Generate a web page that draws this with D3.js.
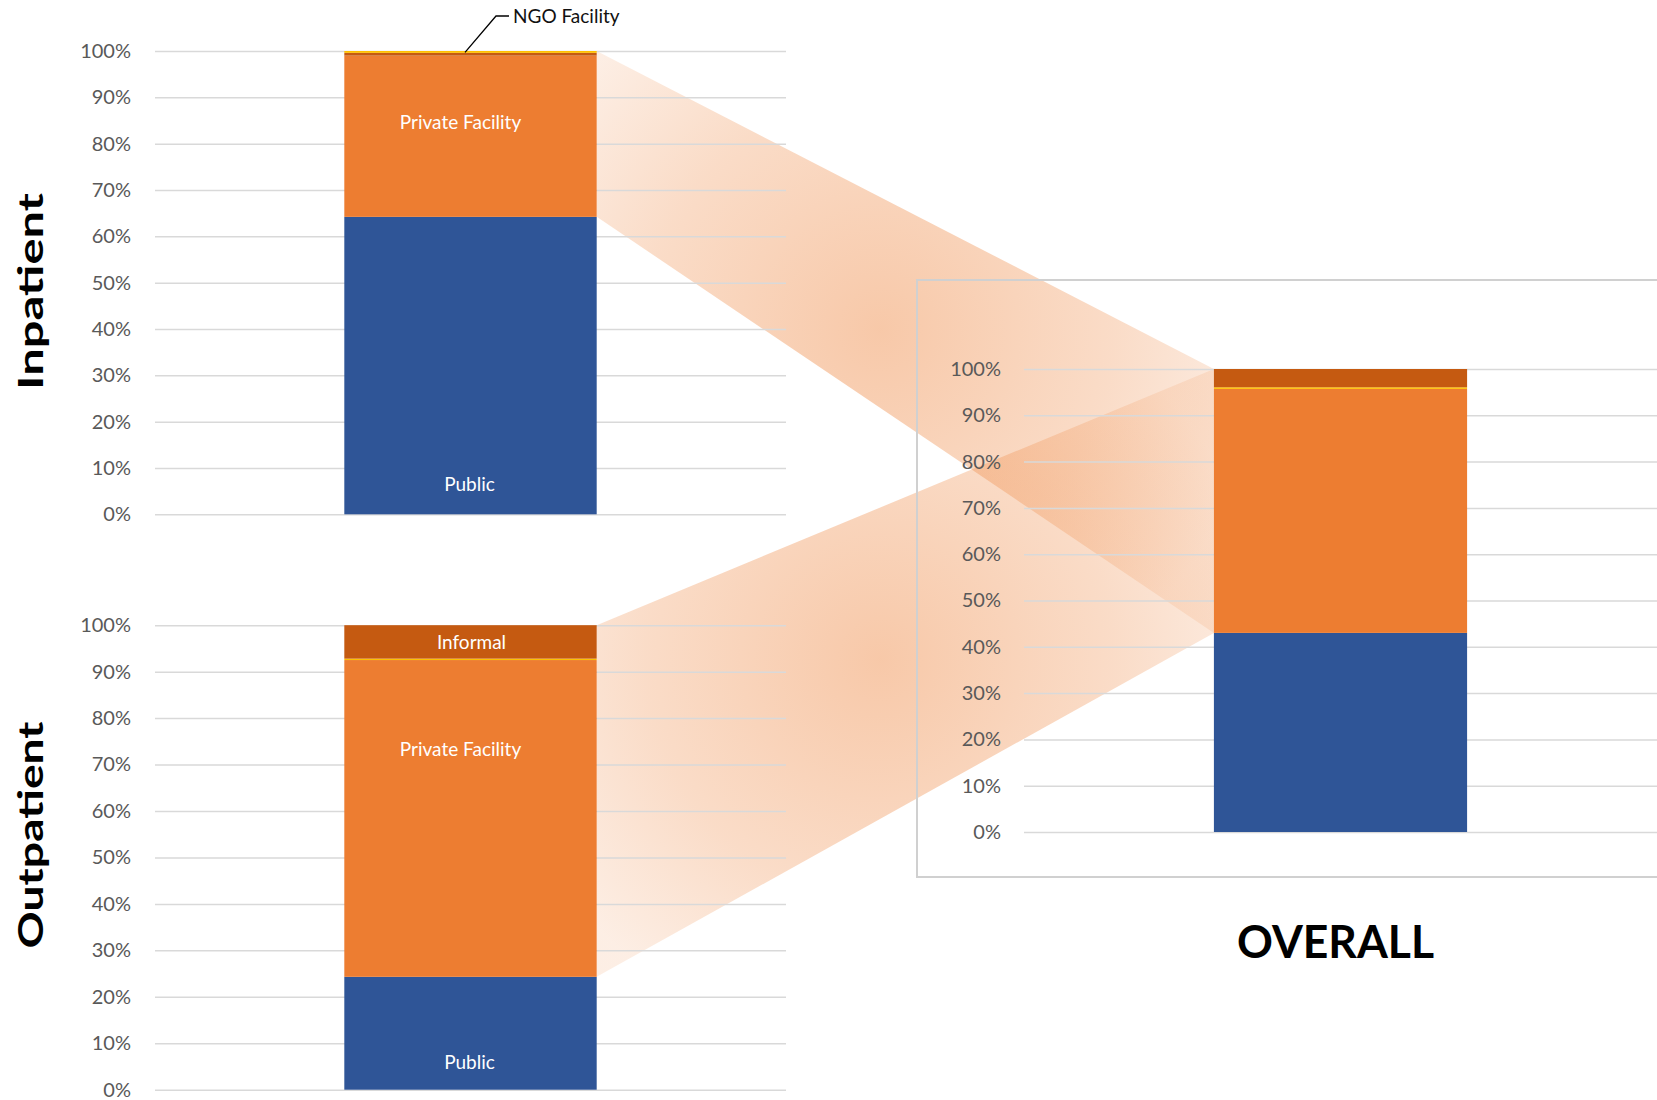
<!DOCTYPE html>
<html>
<head>
<meta charset="utf-8">
<script src="https://cdn.jsdelivr.net/npm/d3@7"></script>
<style>
  html, body { margin: 0; padding: 0; background: #ffffff; }
  svg { display: block; }
</style>
</head>
<body>
<svg id="chart" width="1657" height="1100"></svg>
<script>
// ---------------- DATA ----------------
const seriesNames = ["Public", "Private Facility", "NGO Facility", "Informal"];
const inpatientValues  = [64.2, 34.8, 0.4, 0.6];   // % by seriesNames
const outpatientValues = [24.3, 68.2, 0.3, 7.2];
const overallValues    = [43.0, 52.7, 0.35, 3.95];
const inpatientOrder  = ["Public", "Private Facility", "Informal", "NGO Facility"];
const standardOrder   = ["Public", "Private Facility", "NGO Facility", "Informal"];
const tickValues = [0, 10, 20, 30, 40, 50, 60, 70, 80, 90, 100];
const tickLabels = ["0%", "10%", "20%", "30%", "40%", "50%", "60%", "70%", "80%", "90%", "100%"];
const panelTitles = ["Inpatient", "Outpatient", "OVERALL"];
// data labels: [panel, text, value at which the label sits]
const inpatientLabels  = [["Private Facility", 84.5], ["Public", 6.5]];
const outpatientLabels = [["Informal", 96.4], ["Private Facility", 73.2], ["Public", 5.9]];
const calloutText = "NGO Facility";

// ---------------- STYLE / LAYOUT ----------------
const colors = {
  "Public": "#2F5597",
  "Private Facility": "#ED7D31",
  "NGO Facility": "#FFC000",
  "Informal": "#C55A11"
};
const FONT = "Lato, 'Open Sans', 'Noto Sans', sans-serif";
const svg = d3.select("#chart");

function makeRow(name, values) {
  const r = { category: name };
  seriesNames.forEach((s, i) => r[s] = values[i]);
  return r;
}

const panels = [
  { key: "in",  row: makeRow("Inpatient", inpatientValues),  order: inpatientOrder,
    x0: 155, x1: 786, yBottom: 514.3, yTop: 51, labelPad: 24, labels: inpatientLabels },
  { key: "out", row: makeRow("Outpatient", outpatientValues), order: standardOrder,
    x0: 155, x1: 786, yBottom: 1089.7, yTop: 625.2, labelPad: 24, labels: outpatientLabels },
  { key: "ov",  row: makeRow("Overall", overallValues),       order: standardOrder,
    x0: 1024, x1: 1657, yBottom: 832, yTop: 369, labelPad: 23, labels: [] }
];

panels.forEach(p => {
  p.y = d3.scaleLinear().domain([0, 100]).range([p.yBottom, p.yTop]);
  p.x = d3.scaleBand().domain([p.row.category]).range([p.x0, p.x1]).padding(0.4286);
  p.stack = d3.stack().keys(p.order)([p.row]);
});

const [pIn, pOut, pOv] = panels;

// ---------------- GRADIENTS ----------------
const defs = svg.append("defs");
function radial(id, cx, cy, r) {
  const g = defs.append("radialGradient").attr("id", id)
    .attr("gradientUnits", "userSpaceOnUse")
    .attr("cx", cx).attr("cy", cy).attr("r", r);
  g.append("stop").attr("offset", "0").attr("stop-color", "#ED7D31").attr("stop-opacity", 0.42);
  g.append("stop").attr("offset", "0.6").attr("stop-color", "#ED7D31").attr("stop-opacity", 0.27);
  g.append("stop").attr("offset", "1").attr("stop-color", "#ED7D31").attr("stop-opacity", 0.13);
}
radial("gradIn", 880, 330, 390);
radial("gradOut", 880, 660, 390);

// ---------------- FUNNEL POLYGONS ----------------
function publicTop(p) { return p.row["Public"]; }
function funnel(src, gradId) {
  const xa = src.x(src.row.category) + src.x.bandwidth();
  const xb = pOv.x(pOv.row.category);
  const pts = [
    [xa, src.y(100)],
    [xb, pOv.y(100)],
    [xb, pOv.y(publicTop(pOv))],
    [xa, src.y(publicTop(src))]
  ];
  svg.append("polygon")
    .attr("points", pts.map(d => d.join(",")).join(" "))
    .attr("fill", `url(#${gradId})`);
}
funnel(pIn, "gradIn");
funnel(pOut, "gradOut");

// ---------------- OVERALL BOX ----------------
svg.append("rect")
  .attr("x", 917).attr("y", 280)
  .attr("width", 760).attr("height", 597)
  .attr("fill", "none").attr("stroke", "#D0D0D0").attr("stroke-width", 2);

// ---------------- AXES / GRIDLINES ----------------
panels.forEach(p => {
  const axis = d3.axisLeft(p.y)
    .tickValues(tickValues)
    .tickFormat((d, i) => tickLabels[i])
    .tickSizeInner(-(p.x1 - p.x0))
    .tickSizeOuter(0)
    .tickPadding(p.labelPad);
  const g = svg.append("g").attr("transform", `translate(${p.x0},0)`).call(axis);
  g.select(".domain").remove();
  g.selectAll(".tick line").attr("stroke", "#D9D9D9").attr("stroke-width", 1.5);
  g.selectAll(".tick text")
    .attr("fill", "#595959")
    .style("font-family", FONT)
    .style("font-size", "20px");
});

// ---------------- BARS ----------------
panels.forEach(p => {
  const g = svg.append("g");
  p.stack.forEach(layer => {
    g.selectAll(null).data(layer).enter().append("rect")
      .attr("x", d => p.x(d.data.category))
      .attr("width", p.x.bandwidth())
      .attr("y", d => p.y(d[1]))
      .attr("height", d => p.y(d[0]) - p.y(d[1]))
      .attr("fill", colors[layer.key]);
  });
});

// ---------------- DATA LABELS ----------------
const labelDx = { "Private Facility": -10, "Public": -1, "Informal": 1 };
[pIn, pOut].forEach(p => {
  const cx = p.x(p.row.category) + p.x.bandwidth() / 2;
  svg.selectAll(null).data(p.labels).enter().append("text")
    .attr("x", d => cx + (labelDx[d[0]] || 0))
    .attr("y", d => p.y(d[1]))
    .attr("dy", "0.35em")
    .attr("text-anchor", "middle")
    .attr("fill", "#FFFFFF")
    .style("font-family", FONT)
    .style("font-size", "19px")
    .text(d => d[0]);
});

// ---------------- NGO CALLOUT ----------------
{
  const yNgo = pIn.y(99.7);
  const xNgo = 465;
  svg.append("polyline")
    .attr("points", `${xNgo},${yNgo} 496,16 509,16`)
    .attr("fill", "none").attr("stroke", "#000").attr("stroke-width", 1.3);
  svg.append("text")
    .attr("x", 513).attr("y", 16).attr("dy", "0.35em")
    .attr("fill", "#111")
    .style("font-family", FONT).style("font-size", "19px")
    .text(calloutText);
}

// ---------------- TITLES ----------------
function vTitle(text, cy, len) {
  svg.append("text")
    .attr("transform", `translate(43,${cy}) rotate(-90)`)
    .attr("text-anchor", "middle")
    .attr("fill", "#000")
    .style("font-family", FONT).style("font-weight", 700).style("font-size", "35px")
    .attr("textLength", len).attr("lengthAdjust", "spacingAndGlyphs")
    .text(text);
}
vTitle(panelTitles[0], 291.5, 197);
vTitle(panelTitles[1], 835, 227);

svg.append("text")
  .attr("x", 1335.5).attr("y", 957.7)
  .attr("text-anchor", "middle")
  .attr("fill", "#000")
  .style("font-family", FONT).style("font-weight", 700).style("font-size", "46px")
  .attr("textLength", 197).attr("lengthAdjust", "spacingAndGlyphs")
  .text(panelTitles[2]);
</script>
</body>
</html>
